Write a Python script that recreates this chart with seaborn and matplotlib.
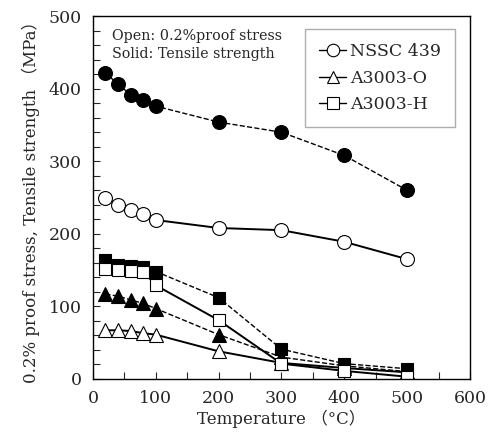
import numpy as np
import pandas as pd
import seaborn as sns
import matplotlib.pyplot as plt
from matplotlib.lines import Line2D
from matplotlib.ticker import MultipleLocator

temps = [20, 40, 60, 80, 100, 200, 300, 400, 500]

nssc_tensile = [422, 406, 392, 384, 376, 354, 340, 308, 260]
nssc_proof = [250, 240, 233, 227, 219, 208, 205, 189, 165]
a3003o_tensile = [117, 114, 109, 104, 97, 61, 30, 18, 10]
a3003o_proof = [67, 67, 66, 63, 61, 38, 22, 15, 9]
a3003h_tensile = [164, 157, 155, 154, 148, 112, 41, 21, 14]
a3003h_proof = [151, 150, 149, 148, 129, 81, 21, 11, 3]

legend_labels = ["NSSC 439", "A3003-O", "A3003-H"]

sns.set_style("ticks")
plt.rcParams["font.family"] = ["DejaVu Serif", "Noto Sans CJK JP"]

fig, ax = plt.subplots(figsize=(4.89, 4.37), dpi=100)
fig.subplots_adjust(left=0.19, right=0.961, top=0.963, bottom=0.133)

series = [
    (nssc_tensile, "o", "black", "--", 10),
    (nssc_proof, "o", "white", "-", 10),
    (a3003o_tensile, "^", "black", "--", 10),
    (a3003o_proof, "^", "white", "-", 10),
    (a3003h_tensile, "s", "black", "--", 9),
    (a3003h_proof, "s", "white", "-", 9),
]

for vals, mk, fc, ls, ms in series:
    df = pd.DataFrame({"T": temps, "v": vals})
    sns.lineplot(data=df, x="T", y="v", ax=ax, color="black", linestyle=ls,
                 linewidth=1.4 if ls == "-" else 1.0, marker=mk, markersize=ms,
                 markerfacecolor=fc, markeredgecolor="black", markeredgewidth=0.8)

ax.set_xlim(0, 600)
ax.set_ylim(0, 500)
ax.xaxis.set_major_locator(MultipleLocator(100))
ax.xaxis.set_minor_locator(MultipleLocator(50))
ax.yaxis.set_major_locator(MultipleLocator(100))
ax.yaxis.set_minor_locator(MultipleLocator(20))
ax.tick_params(which="both", direction="in", length=5, width=0.8, labelsize=12.5, pad=8)
for s in ax.spines.values():
    s.set_color("black")
    s.set_linewidth(1.0)

ax.set_xlabel("Temperature （°C）", fontsize=12, labelpad=2)
ax.set_ylabel("0.2% proof stress, Tensile strength （MPa）", fontsize=12, labelpad=6)

ax.text(0.05, 0.965, "Open: 0.2%proof stress\nSolid: Tensile strength",
        transform=ax.transAxes, ha="left", va="top", fontsize=10.3, linespacing=1.4)

handles = [
    Line2D([], [], color="black", lw=1.0, marker=m, markersize=9,
           markerfacecolor="white", markeredgecolor="black", markeredgewidth=0.8)
    for m in ["o", "^", "s"]
]
leg = ax.legend(handles, legend_labels, loc="upper right", bbox_to_anchor=(0.96, 0.964),
                borderaxespad=0, fontsize=12.5, frameon=True, fancybox=False,
                handlelength=1.6, handletextpad=0.2, borderpad=0.8, labelspacing=0.55)
leg.get_frame().set_edgecolor("#999999")
leg.get_frame().set_linewidth(1.0)

fig.savefig("out.png", dpi=100)
